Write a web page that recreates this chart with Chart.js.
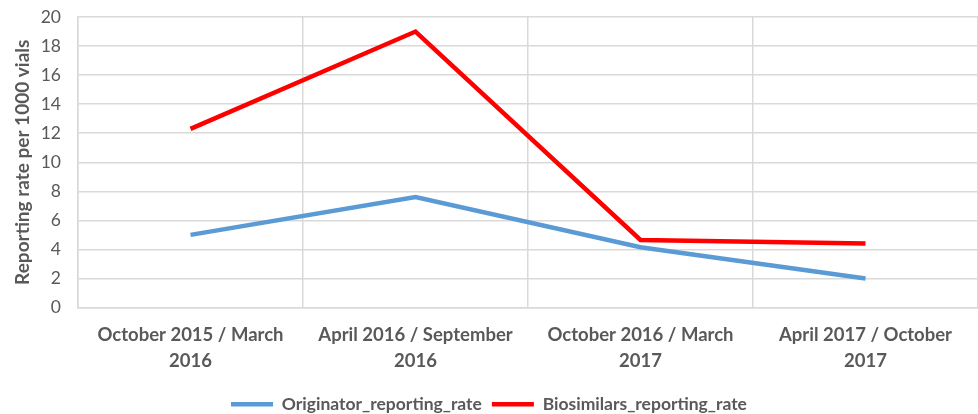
<!DOCTYPE html>
<html>
<head>
<meta charset="utf-8">
<script src="https://cdn.jsdelivr.net/npm/chart.js@4"></script>
<style>
  html, body { margin: 0; padding: 0; background: #fff; }
  #wrap { width: 978px; height: 414px; }
</style>
</head>
<body>
<div id="wrap"><canvas id="chart" width="978" height="414"></canvas></div>
<script>
const periods = [
  ["October 2015 / March", "2016"],
  ["April 2016 / September", "2016"],
  ["October 2016 / March", "2017"],
  ["April 2017 / October", "2017"]
];
const originatorRate = [5.0, 7.6, 4.15, 2.0];
const biosimilarsRate = [12.3, 19.0, 4.65, 4.4];
const yTicks = [0, 2, 4, 6, 8, 10, 12, 14, 16, 18, 20];

const FONT = "Lato, 'Open Sans', sans-serif";
const grey = "#595959";

// nudge the legend down a few pixels, like the original
const legendShift = {
  id: "legendShift",
  afterLayout(chart) {
    chart.legend.top += 9;
    chart.legend.bottom += 9;
    chart.legend.legendHitBoxes.forEach(b => { b.top += 9; });
  }
};

new Chart(document.getElementById("chart"), {
  type: "line",
  data: {
    labels: periods,
    datasets: [
      {
        label: "Originator_reporting_rate",
        data: originatorRate,
        borderColor: "#5B9BD5",
        backgroundColor: "#5B9BD5",
        borderWidth: 4.5,
        pointRadius: 0,
        tension: 0
      },
      {
        label: "Biosimilars_reporting_rate",
        data: biosimilarsRate,
        borderColor: "#FF0000",
        backgroundColor: "#FF0000",
        borderWidth: 4.5,
        pointRadius: 0,
        tension: 0
      }
    ]
  },
  options: {
    responsive: false,
    animation: false,
    layout: { padding: { top: 0, right: 0, left: 0, bottom: 0 } },
    plugins: {
      tooltip: { enabled: false },
      legend: {
        position: "bottom",
        labels: {
          usePointStyle: true,
          pointStyle: "line",
          pointStyleWidth: 42,
          color: grey,
          padding: 10,
          font: { family: FONT, size: 17.5, weight: "bold" }
        }
      }
    },
    scales: {
      x: {
        offset: true,
        grid: { offset: true, color: "#D9D9D9", lineWidth: 1.5, drawTicks: false },
        border: { color: "#D9D9D9", width: 1.5 },
        ticks: {
          color: grey,
          maxRotation: 0,
          padding: 15,
          font: { family: FONT, size: 18.5, weight: "bold", lineHeight: 1.4 }
        },
        afterFit: (s) => { s.height = 69; }
      },
      y: {
        min: 0,
        max: 20,
        afterBuildTicks: (s) => { s.ticks = yTicks.map(v => ({ value: v })); },
        grid: { color: "#D9D9D9", lineWidth: 1.5, drawTicks: false },
        border: { color: "#D9D9D9", width: 1.5 },
        ticks: {
          color: grey,
          padding: 17,
          font: { family: FONT, size: 17.5 }
        },
        title: {
          display: true,
          text: "Reporting rate per 1000 vials",
          color: grey,
          padding: { top: 11, bottom: 0 },
          font: { family: FONT, size: 19, weight: "bold" }
        },
        afterFit: (s) => {
          s.width = 78;
          s.paddingTop = 17;
          s.paddingBottom = 10;
        }
      }
    }
  },
  plugins: [legendShift]
});
</script>
</body>
</html>
